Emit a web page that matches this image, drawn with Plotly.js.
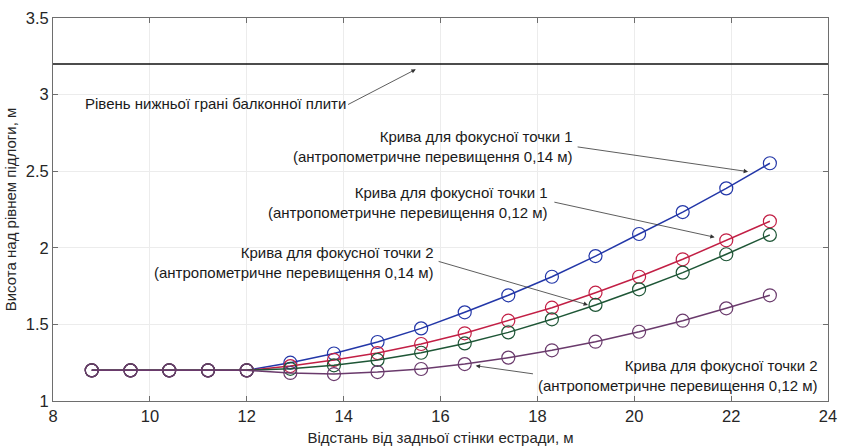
<!DOCTYPE html>
<html>
<head>
<meta charset="utf-8">
<script src="https://cdn.plot.ly/plotly-3.0.1.min.js"></script>
<style>html,body{margin:0;padding:0;background:#fff;}</style>
</head>
<body>
<div id="chart" style="width:841px;height:446px;"></div>
<script>
// Distance from the back wall of the stage, m
const xDist = [8.8, 9.6, 10.4, 11.2, 12.0, 12.9, 13.8, 14.7, 15.6, 16.5, 17.4, 18.3, 19.2, 20.1, 21.0, 21.9, 22.8];
// Focus point 1, anthropometric excess 0.14 m
const fp1_014 = [1.2, 1.2, 1.2, 1.2, 1.2, 1.25, 1.31, 1.385, 1.474, 1.579, 1.69, 1.811, 1.946, 2.09, 2.233, 2.388, 2.552];
// Focus point 1, anthropometric excess 0.12 m
const fp1_012 = [1.2, 1.2, 1.2, 1.2, 1.2, 1.228, 1.268, 1.313, 1.372, 1.442, 1.524, 1.609, 1.707, 1.811, 1.925, 2.049, 2.173];
// Focus point 2, anthropometric excess 0.14 m
const fp2_014 = [1.2, 1.2, 1.2, 1.2, 1.2, 1.21, 1.233, 1.268, 1.315, 1.376, 1.448, 1.533, 1.627, 1.729, 1.838, 1.958, 2.084];
// Focus point 2, anthropometric excess 0.12 m
const fp2_012 = [1.2, 1.2, 1.2, 1.2, 1.2, 1.183, 1.176, 1.189, 1.209, 1.241, 1.283, 1.331, 1.387, 1.452, 1.524, 1.605, 1.69];
// Balcony slab underside level
const slabLevel = 3.2;
const xRange = [8, 24];
const yRange = [1, 3.5];

const xTitle = 'Відстань від задньої стінки естради, м';
const yTitle = 'Висота над рівнем підлоги, м';
const labelSlab = 'Рівень нижньої грані балконної плити';
const label1 = 'Крива для фокусної точки 1<br>(антропометричне перевищення 0,14 м)';
const label2 = 'Крива для фокусної точки 1<br>(антропометричне перевищення 0,12 м)';
const label3 = 'Крива для фокусної точки 2<br>(антропометричне перевищення 0,14 м)';
const label4 = 'Крива для фокусної точки 2<br>(антропометричне перевищення 0,12 м)';

const FONT = 'Liberation Sans, Arial, sans-serif';

function series(y, color) {
  return {
    x: xDist, y: y, type: 'scatter', mode: 'lines+markers',
    line: {color: color, width: 1.5},
    marker: {symbol: 'circle-open', size: 13, color: color, line: {width: 1.2, color: color}},
    showlegend: false, hoverinfo: 'skip'
  };
}

const traces = [
  {x: xRange, y: [slabLevel, slabLevel], type: 'scatter', mode: 'lines',
   line: {color: '#111', width: 1.6}, showlegend: false, hoverinfo: 'skip'},
  series(fp1_014, '#2337a8'),
  series(fp1_012, '#c21f45'),
  series(fp2_014, '#1e5636'),
  series(fp2_012, '#6a3a6c')
];

function textAnn(text, x, y, xanchor) {
  return {text: text, x: x, y: y, xref: 'x', yref: 'y', showarrow: false,
          xanchor: xanchor, yanchor: 'middle', align: 'right',
          font: {family: FONT, size: 15, color: '#1a1a1a'}};
}
function arrowAnn(x, y, ax, ay) {
  return {text: '', x: x, y: y, ax: ax, ay: ay, xref: 'x', yref: 'y', axref: 'x', ayref: 'y',
          showarrow: true, arrowhead: 2, arrowsize: 1.1, arrowwidth: 0.8, arrowcolor: '#333', standoff: 0};
}

const annotations = [
  textAnn(labelSlab, 11.36, 2.945, 'center'),
  textAnn(label1, 18.77, 2.658, 'right'),
  textAnn(label2, 18.27, 2.294, 'right'),
  textAnn(label3, 15.90, 1.902, 'right'),
  textAnn(label4, 23.83, 1.164, 'right'),
  arrowAnn(15.49, 3.165, 14.06, 2.93),
  arrowAnn(22.35, 2.497, 18.80, 2.66),
  arrowAnn(21.66, 2.069, 18.32, 2.30),
  arrowAnn(19.045, 1.627, 15.93, 1.914),
  arrowAnn(16.726, 1.230, 17.94, 1.176)
];

const axisCommon = {
  showline: true, linecolor: '#6e6e6e', linewidth: 1, mirror: 'ticks',
  ticks: 'inside', ticklen: 5, tickcolor: '#6e6e6e', tickwidth: 1,
  showgrid: true, gridcolor: '#ececec', gridwidth: 1, zeroline: false,
  tickfont: {family: FONT, size: 16.5, color: '#262626'}
};

const layout = {
  width: 841, height: 446,
  margin: {l: 53, r: 13, t: 18, b: 45},
  paper_bgcolor: '#fff', plot_bgcolor: '#fff',
  font: {family: FONT},
  xaxis: Object.assign({}, axisCommon, {
    range: xRange, dtick: 2, tick0: 8,
    title: {text: xTitle, font: {family: FONT, size: 15, color: '#262626'}, standoff: 9}
  }),
  yaxis: Object.assign({}, axisCommon, {
    range: yRange, dtick: 0.5, tick0: 1,
    title: {text: yTitle, font: {family: FONT, size: 15, color: '#262626'}, standoff: 5}
  }),
  annotations: annotations
};

Plotly.newPlot('chart', traces, layout, {displayModeBar: false, staticPlot: true});
</script>
</body>
</html>
